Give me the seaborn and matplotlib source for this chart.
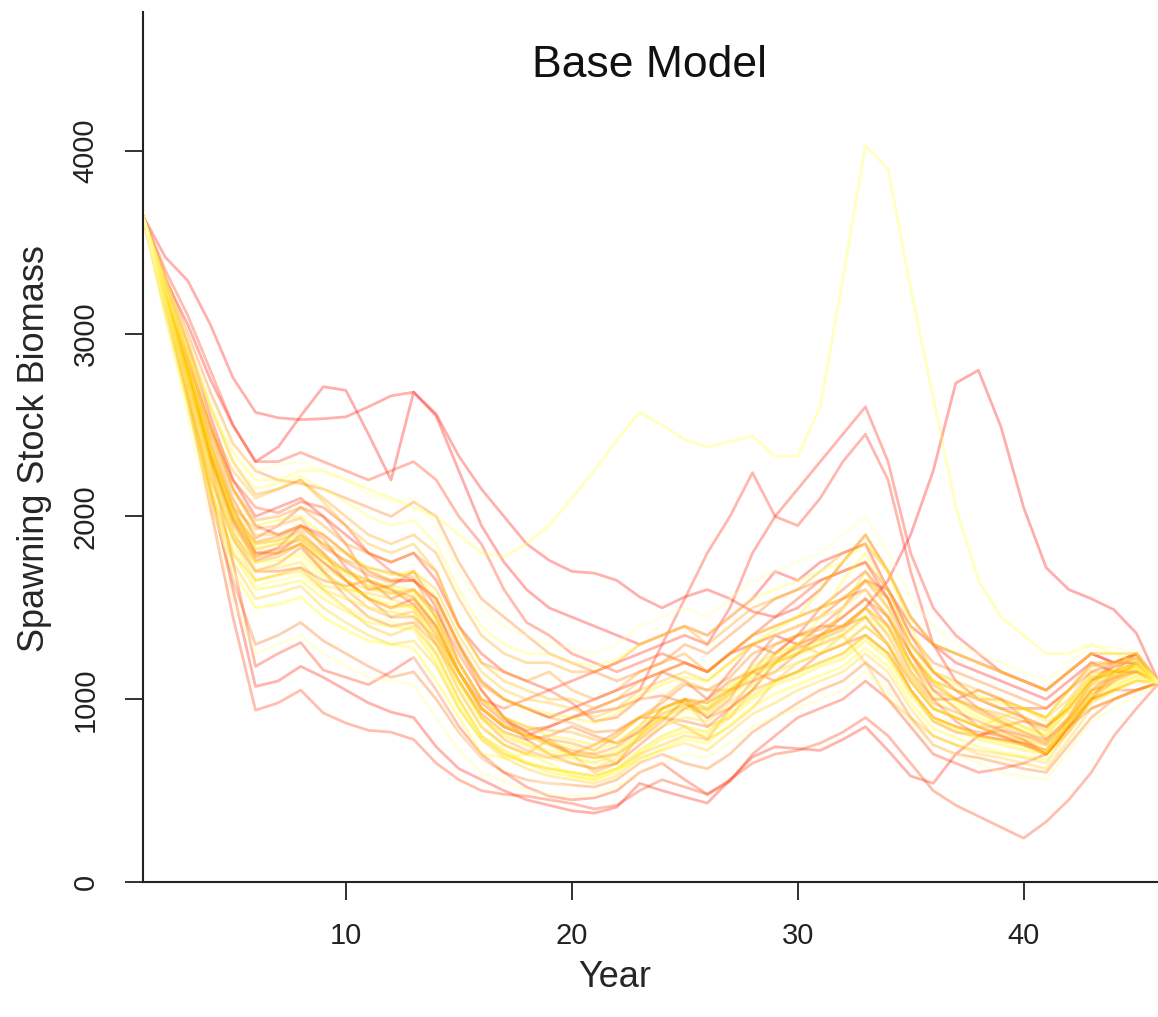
import colorsys
import numpy as np
import pandas as pd
import seaborn as sns
import matplotlib
matplotlib.use("Agg")
import matplotlib.pyplot as plt

# -----------------------------
# Data: spawning stock biomass per simulation run (years 1..46)
# -----------------------------
years = list(range(1, 47))

# reddish runs (the outlying ones)
run01 = [3650, 3250, 2850, 2500, 2150, 1950, 1900, 1950, 1900, 1800,
         1700, 1650, 1650, 1550, 1300, 1100, 1000, 950, 900, 950,
         1000, 1050, 1100, 1150, 1200, 1150, 1250, 1300, 1350, 1300,
         1350, 1400, 1500, 1650, 1900, 2250, 2730, 2800, 2490, 2050,
         1720, 1600, 1550, 1490, 1360, 1090]
run02 = [3650, 3300, 3050, 2750, 2500, 2300, 2380, 2550, 2710, 2690,
         2450, 2200, 2680, 2550, 2250, 1950, 1750, 1600, 1500, 1450,
         1400, 1350, 1300, 1350, 1400, 1350, 1450, 1550, 1700, 1650,
         1750, 1800, 1850, 1600, 1400, 1300, 1250, 1200, 1150, 1100,
         1050, 1150, 1250, 1200, 1200, 1090]
run03 = [3650, 3420, 3290, 3050, 2760, 2570, 2540, 2530, 2535, 2545,
         2600, 2660, 2680, 2560, 2330, 2150, 2000, 1850, 1760, 1700,
         1690, 1650, 1560, 1500, 1560, 1600, 1550, 1480, 1450, 1500,
         1600, 1750, 1900, 1700, 1450, 1300, 1200, 1150, 1100, 1050,
         1000, 1100, 1200, 1150, 1150, 1090]
run04 = [3650, 3200, 2700, 2150, 1600, 1070, 1100, 1180, 1120, 1050,
         980, 930, 900, 740, 620, 560, 500, 450, 420, 390,
         377, 410, 540, 500, 465, 432, 558, 684, 740, 730,
         720, 780, 850, 720, 580, 540, 700, 800, 830, 780,
         700, 850, 950, 1000, 1050, 1090]
run05 = [3650, 3300, 2950, 2550, 2200, 2000, 2050, 2100, 2000, 1900,
         1800, 1750, 1800, 1650, 1400, 1250, 1150, 1100, 1050, 1100,
         1150, 1200, 1250, 1300, 1350, 1300, 1500, 1800, 2000, 2150,
         2300, 2450, 2600, 2300, 1800, 1500, 1350, 1250, 1150, 1100,
         1050, 1150, 1250, 1200, 1200, 1090]
run06 = [3650, 3250, 2850, 2400, 2050, 1800, 1800, 1850, 1750, 1650,
         1550, 1500, 1550, 1400, 1150, 950, 850, 800, 850, 900,
         950, 1000, 1050, 1300, 1550, 1800, 2000, 2240, 2000, 1950,
         2100, 2300, 2450, 2200, 1700, 1300, 1100, 1000, 950, 900,
         850, 950, 1100, 1150, 1150, 1090]
run07 = [3650, 3220, 2780, 2300, 1750, 1180, 1250, 1310, 1160, 1120,
         1080, 1150, 1230, 1050, 850, 700, 600, 520, 470, 450,
         460, 500, 600, 650, 560, 480, 550, 700, 800, 900,
         950, 1000, 1100, 1000, 850, 700, 650, 600, 620, 650,
         700, 850, 1000, 1050, 1050, 1090]
run08 = [3650, 3350, 3100, 2800, 2500, 2300, 2300, 2350, 2300, 2250,
         2200, 2250, 2300, 2200, 2000, 1850, 1600, 1420, 1350, 1250,
         1200, 1150, 1200, 1250, 1200, 1150, 1250, 1350, 1450, 1550,
         1650, 1700, 1750, 1550, 1300, 1150, 1050, 1000, 950, 950,
         950, 1050, 1150, 1200, 1250, 1090]
run09 = [3650, 3150, 2650, 2050, 1450, 940, 980, 1050, 925, 870,
         830, 820, 780, 650, 560, 500, 480, 470, 450, 430,
         400, 420, 500, 560, 520, 480, 560, 650, 700, 720,
         760, 820, 900, 800, 650, 500, 420, 360, 300, 240,
         330, 450, 600, 800, 950, 1090]
# orange runs
run10 = [3650, 3230, 2800, 2330, 1980, 1780, 1830, 1950, 1880, 1720,
         1600, 1620, 1700, 1500, 1200, 1000, 950, 1000, 1050, 980,
         880, 900, 1000, 1150, 1100, 1000, 1150, 1300, 1250, 1350,
         1500, 1600, 1700, 1550, 1250, 1050, 950, 850, 800, 750,
         700, 820, 1000, 1150, 1250, 1090]
run11 = [3650, 3270, 2880, 2480, 2200, 2050, 2020, 2080, 2050, 1950,
         1800, 1700, 1650, 1550, 1300, 1050, 900, 820, 760, 700,
         680, 700, 780, 880, 1000, 980, 1050, 1100, 1150, 1250,
         1350, 1450, 1550, 1400, 1150, 1000, 1000, 1050, 1000, 900,
         780, 900, 1100, 1200, 1250, 1090]
run12 = [3650, 3170, 2700, 2230, 1880, 1700, 1700, 1720, 1650, 1620,
         1650, 1600, 1520, 1350, 1150, 980, 880, 830, 850, 900,
         930, 950, 1000, 1020, 980, 900, 1000, 1200, 1350, 1400,
         1450, 1550, 1600, 1450, 1200, 1000, 880, 800, 780, 760,
         700, 850, 1020, 1120, 1200, 1090]
run13 = [3650, 3260, 2870, 2450, 2100, 1880, 1950, 2050, 2000, 1850,
         1650, 1550, 1600, 1480, 1250, 1050, 900, 780, 700, 650,
         620, 650, 750, 850, 950, 1000, 1100, 1150, 1100, 1150,
         1250, 1300, 1350, 1250, 1050, 880, 820, 800, 850, 880,
         850, 950, 1100, 1180, 1220, 1090]
run14 = [3650, 3200, 2770, 2310, 1960, 1760, 1800, 1900, 1800, 1650,
         1550, 1450, 1450, 1330, 1100, 920, 820, 780, 800, 850,
         800, 760, 820, 950, 1000, 900, 950, 1050, 1200, 1300,
         1400, 1500, 1650, 1600, 1350, 1150, 1050, 950, 880, 820,
         780, 880, 1000, 1100, 1200, 1090]
run15 = [3650, 3190, 2740, 2280, 1920, 1700, 1740, 1830, 1700, 1560,
         1450, 1400, 1420, 1300, 1100, 900, 780, 720, 680, 700,
         750, 820, 900, 900, 880, 850, 950, 1100, 1250, 1350,
         1400, 1400, 1450, 1300, 1050, 900, 850, 820, 800, 760,
         720, 870, 1050, 1150, 1200, 1090]
run16 = [3650, 3120, 2620, 2100, 1650, 1300, 1350, 1420, 1320, 1250,
         1180, 1120, 1150, 1000, 820, 680, 600, 560, 540, 530,
         520, 560, 650, 700, 650, 620, 700, 820, 900, 980,
         1050, 1100, 1200, 1100, 900, 750, 700, 680, 650, 620,
         600, 750, 900, 1000, 1050, 1090]
run17 = [3650, 3320, 3000, 2680, 2400, 2250, 2200, 2180, 2150, 2100,
         2050, 2000, 2080, 2000, 1750, 1550, 1450, 1350, 1250, 1200,
         1150, 1100, 1150, 1200, 1300, 1250, 1350, 1450, 1550, 1600,
         1650, 1700, 1750, 1600, 1350, 1200, 1150, 1100, 1050, 1000,
         950, 1050, 1180, 1200, 1250, 1090]
run18 = [3650, 3240, 2820, 2370, 2020, 1860, 1890, 1940, 1850, 1750,
         1680, 1640, 1650, 1520, 1280, 1080, 1000, 950, 900, 870,
         820, 830, 900, 980, 1080, 1050, 1120, 1250, 1300, 1350,
         1380, 1450, 1550, 1450, 1250, 1080, 1000, 930, 870, 820,
         760, 900, 1080, 1180, 1230, 1090]
run19 = [3650, 3210, 2790, 2340, 1990, 1800, 1820, 1880, 1780, 1700,
         1650, 1600, 1560, 1400, 1150, 950, 860, 820, 760, 720,
         700, 740, 830, 920, 970, 940, 1030, 1150, 1220, 1280,
         1330, 1380, 1500, 1350, 1120, 980, 930, 880, 830, 800,
         760, 900, 1050, 1120, 1160, 1090]
run20 = [3650, 3200, 2800, 2350, 2050, 1930, 1950, 1990, 1830, 1760,
         1720, 1690, 1670, 1440, 1150, 950, 850, 800, 780, 760,
         720, 800, 900, 950, 1000, 950, 1050, 1150, 1200, 1250,
         1300, 1350, 1450, 1300, 1100, 950, 900, 850, 850, 800,
         750, 900, 1050, 1100, 1150, 1090]
run21 = [3650, 3250, 2850, 2450, 2150, 1980, 2000, 2050, 1950, 1850,
         1800, 1750, 1800, 1700, 1400, 1200, 1150, 1100, 1150, 1050,
         1000, 1050, 1150, 1200, 1250, 1150, 1250, 1350, 1400, 1450,
         1500, 1550, 1650, 1500, 1250, 1100, 1050, 1000, 1000, 950,
         900, 1050, 1200, 1200, 1200, 1090]
run22 = [3650, 3150, 2700, 2200, 1900, 1750, 1780, 1850, 1700, 1600,
         1500, 1450, 1480, 1300, 1050, 850, 750, 700, 780, 700,
         600, 650, 800, 900, 850, 780, 950, 1050, 1100, 1150,
         1200, 1250, 1350, 1250, 1050, 900, 850, 800, 780, 750,
         700, 850, 1000, 1050, 1100, 1090]
run23 = [3650, 3300, 2950, 2600, 2300, 2120, 2150, 2200, 2100, 2000,
         1900, 1850, 1900, 1800, 1550, 1350, 1250, 1200, 1200, 1150,
         1150, 1200, 1300, 1350, 1400, 1300, 1400, 1500, 1550, 1600,
         1700, 1800, 1850, 1700, 1450, 1300, 1250, 1200, 1150, 1100,
         1050, 1150, 1250, 1250, 1250, 1090]
run24 = [3650, 3180, 2750, 2300, 2000, 1850, 1870, 1920, 1800, 1700,
         1620, 1580, 1600, 1450, 1200, 1000, 900, 850, 830, 820,
         780, 760, 850, 1000, 1100, 1050, 1050, 1150, 1300, 1350,
         1350, 1400, 1500, 1400, 1200, 1050, 1000, 950, 920, 880,
         830, 980, 1120, 1130, 1150, 1090]
run25 = [3650, 3220, 2780, 2330, 2000, 1820, 1850, 1870, 1750, 1650,
         1550, 1500, 1520, 1380, 1150, 950, 850, 800, 750, 700,
         700, 650, 800, 950, 1000, 850, 900, 1050, 1200, 1300,
         1250, 1300, 1400, 1300, 1100, 950, 900, 850, 820, 780,
         720, 880, 1050, 1100, 1150, 1090]
run26 = [3650, 3280, 2900, 2500, 2250, 2100, 2150, 2200, 2080, 1950,
         1850, 1800, 1850, 1700, 1400, 1200, 1100, 1050, 1000, 1000,
         950, 1000, 1100, 1150, 1200, 1150, 1250, 1350, 1400, 1450,
         1500, 1550, 1650, 1550, 1300, 1150, 1100, 1050, 1000, 950,
         900, 1000, 1150, 1150, 1200, 1090]
run27 = [3650, 3150, 2650, 2150, 1800, 1650, 1680, 1720, 1600, 1500,
         1400, 1350, 1400, 1250, 1000, 800, 700, 650, 620, 600,
         580, 620, 700, 750, 800, 780, 850, 950, 1100, 1200,
         1250, 1350, 1200, 1000, 900, 800, 750, 720, 700, 680,
         650, 820, 980, 1050, 1100, 1090]
run28 = [3650, 3230, 2820, 2400, 2080, 1900, 1900, 1950, 1850, 1800,
         1700, 1650, 1700, 1600, 1350, 1150, 1050, 1000, 980, 950,
         900, 950, 1050, 1100, 1150, 1100, 1200, 1300, 1350, 1400,
         1450, 1500, 1600, 1450, 1250, 1100, 1000, 950, 900, 850,
         800, 950, 1100, 1150, 1180, 1090]
# yellow runs
run29 = [3650, 3120, 2620, 2100, 1750, 1550, 1580, 1620, 1500, 1420,
         1350, 1300, 1320, 1180, 950, 780, 680, 620, 580, 560,
         540, 580, 680, 720, 760, 720, 820, 920, 980, 1050,
         1100, 1150, 1250, 1150, 950, 800, 750, 700, 680, 650,
         620, 780, 950, 1000, 1050, 1090]
run30 = [3650, 3200, 2750, 2250, 1900, 1700, 1720, 1750, 1620, 1600,
         1580, 1550, 1500, 1300, 1050, 850, 750, 700, 680, 650,
         620, 680, 780, 850, 900, 880, 980, 1080, 1150, 1200,
         1250, 1300, 1400, 1300, 1100, 950, 900, 850, 800, 780,
         750, 900, 1050, 1100, 1150, 1090]
run31 = [3650, 3220, 2800, 2350, 2000, 1780, 1800, 1850, 1720, 1650,
         1600, 1580, 1550, 1380, 1100, 900, 800, 750, 700, 680,
         650, 700, 800, 900, 950, 920, 1020, 1120, 1200, 1250,
         1300, 1500, 1700, 1500, 1150, 950, 900, 850, 900, 950,
         880, 930, 1080, 1120, 1180, 1090]
run32 = [3650, 3180, 2720, 2220, 1880, 1650, 1680, 1700, 1600, 1550,
         1500, 1480, 1450, 1250, 1000, 800, 720, 650, 620, 600,
         580, 620, 720, 800, 850, 820, 920, 1020, 1100, 1150,
         1200, 1250, 1350, 1250, 1050, 900, 850, 800, 770, 750,
         720, 880, 1030, 1080, 1130, 1090]
run33 = [3650, 3250, 2850, 2400, 2050, 1850, 1870, 1900, 1780, 1700,
         1650, 1620, 1600, 1450, 1200, 1000, 900, 850, 800, 780,
         750, 800, 900, 950, 1000, 980, 1080, 1180, 1250, 1300,
         1350, 1400, 1500, 1400, 1200, 1100, 1050, 1000, 950, 900,
         850, 980, 1130, 1160, 1200, 1090]
run34 = [3650, 3150, 2650, 2150, 1800, 1600, 1620, 1650, 1550, 1480,
         1420, 1400, 1380, 1200, 950, 780, 700, 650, 600, 580,
         560, 600, 700, 780, 820, 800, 900, 1000, 1080, 1120,
         1180, 1220, 1320, 1220, 1020, 880, 830, 780, 750, 720,
         700, 860, 1010, 1060, 1120, 1090]
run35 = [3650, 3280, 2900, 2480, 2150, 1950, 1980, 2000, 1900, 1800,
         1720, 1680, 1700, 1550, 1300, 1100, 1000, 950, 920, 900,
         870, 920, 1020, 1080, 1120, 1100, 1200, 1300, 1380, 1450,
         1600, 1750, 1900, 1700, 1400, 1150, 1080, 1020, 980, 950,
         900, 1050, 1180, 1200, 1220, 1090]
run36 = [3650, 3100, 2600, 2100, 1700, 1500, 1520, 1560, 1450, 1380,
         1320, 1300, 1280, 1100, 900, 700, 680, 700, 650, 580,
         560, 620, 660, 730, 780, 760, 860, 960, 1030, 1080,
         1130, 1180, 1280, 1180, 980, 840, 790, 740, 710, 690,
         670, 830, 990, 1040, 1100, 1090]
# pale runs (run39 is the one with the big spike at year 33)
run37 = [3650, 3200, 2780, 2300, 1950, 1750, 1760, 1800, 1680, 1620,
         1560, 1520, 1500, 1350, 1100, 900, 820, 760, 720, 700,
         680, 720, 820, 900, 960, 940, 1040, 1140, 1200, 1260,
         1320, 1360, 1460, 1380, 1180, 1020, 960, 900, 860, 830,
         800, 950, 1100, 1140, 1170, 1090]
run38 = [3650, 3240, 2840, 2380, 2020, 1830, 1850, 1880, 1760, 1680,
         1620, 1600, 1580, 1420, 1150, 950, 860, 800, 760, 740,
         720, 760, 860, 930, 980, 960, 1060, 1160, 1230, 1300,
         1450, 1650, 1800, 1600, 1300, 1100, 980, 920, 880, 850,
         820, 970, 1120, 1150, 1190, 1090]
run39 = [3650, 3250, 2900, 2600, 2350, 2200, 2200, 2250, 2250, 2200,
         2150, 2100, 2050, 2000, 1900, 1800, 1780, 1850, 1950, 2100,
         2250, 2420, 2570, 2500, 2420, 2380, 2410, 2440, 2330, 2330,
         2600, 3300, 4030, 3900, 3250, 2650, 2050, 1650, 1450, 1350,
         1250, 1250, 1300, 1250, 1200, 1090]
run40 = [3650, 3300, 2950, 2600, 2300, 2150, 2180, 2220, 2150, 2080,
         2000, 1950, 1980, 1850, 1600, 1400, 1300, 1250, 1250, 1200,
         1180, 1220, 1300, 1350, 1400, 1350, 1450, 1550, 1600, 1650,
         1700, 1750, 1850, 1700, 1450, 1300, 1250, 1200, 1150, 1100,
         1050, 1150, 1250, 1250, 1250, 1090]
run41 = [3650, 3150, 2700, 2200, 1850, 1620, 1650, 1680, 1580, 1500,
         1450, 1420, 1400, 1220, 980, 800, 720, 660, 620, 600,
         580, 620, 720, 790, 840, 820, 920, 1020, 1090, 1140,
         1190, 1240, 1340, 1240, 1040, 890, 840, 790, 760, 730,
         710, 870, 1020, 1070, 1120, 1090]
run42 = [3650, 3200, 2750, 2280, 1920, 1720, 1740, 1780, 1660, 1600,
         1540, 1500, 1480, 1320, 1080, 880, 800, 740, 700, 680,
         660, 700, 800, 880, 930, 910, 1010, 1110, 1180, 1230,
         1290, 1340, 1440, 1340, 1140, 990, 940, 890, 850, 820,
         790, 940, 1090, 1130, 1160, 1090]
run43 = [3650, 3100, 2550, 2000, 1550, 1250, 1300, 1350, 1250, 1180,
         1120, 1100, 1080, 900, 720, 600, 550, 500, 480, 470,
         480, 520, 600, 650, 700, 680, 760, 850, 900, 950,
         1000, 1050, 1150, 1050, 880, 750, 700, 650, 600, 580,
         560, 720, 880, 950, 1020, 1090]
run44 = [3650, 3300, 2980, 2650, 2400, 2250, 2280, 2300, 2250, 2200,
         2120, 2080, 2100, 1950, 1700, 1500, 1400, 1350, 1300, 1280,
         1250, 1300, 1400, 1450, 1500, 1450, 1550, 1650, 1700, 1750,
         1800, 1900, 2000, 1800, 1550, 1400, 1300, 1250, 1200, 1150,
         1100, 1200, 1300, 1280, 1260, 1090]
run45 = [3650, 3180, 2700, 2250, 1900, 1700, 1720, 1760, 1640, 1560,
         1500, 1460, 1440, 1280, 1050, 850, 780, 720, 680, 660,
         640, 680, 780, 860, 900, 880, 980, 1080, 1150, 1200,
         1260, 1310, 1410, 1310, 1110, 960, 910, 860, 820, 790,
         760, 910, 1060, 1100, 1140, 1090]
run46 = [3650, 3260, 2870, 2450, 2120, 1920, 1950, 1980, 1880, 1780,
         1700, 1660, 1680, 1520, 1270, 1070, 980, 920, 890, 870,
         840, 890, 990, 1050, 1100, 1080, 1180, 1280, 1350, 1400,
         1450, 1500, 1600, 1480, 1280, 1120, 1060, 1000, 960, 930,
         880, 1030, 1170, 1190, 1210, 1090]
run47 = [3650, 3120, 2600, 2080, 1700, 1450, 1480, 1520, 1420, 1350,
         1280, 1250, 1230, 1050, 830, 680, 620, 570, 540, 520,
         500, 540, 640, 710, 760, 740, 840, 940, 1010, 1060,
         1110, 1160, 1260, 1160, 960, 820, 770, 720, 690, 670,
         650, 810, 970, 1030, 1090, 1090]

runs = [run01, run02, run03, run04, run05, run06, run07, run08, run09, run10,
        run11, run12, run13, run14, run15, run16, run17, run18, run19, run20,
        run21, run22, run23, run24, run25, run26, run27, run28, run29, run30,
        run31, run32, run33, run34, run35, run36, run37, run38, run39, run40,
        run41, run42, run43, run44, run45, run46, run47]
run_names = [f"run{i + 1:02d}" for i in range(len(runs))]

rows = []
for name, values in zip(run_names, runs):
    assert len(values) == len(years), name
    for yr, v in zip(years, values):
        rows.append({"run": name, "Year": yr, "SSB": v})
df = pd.DataFrame(rows)


# R-style heat.colors palette
def heat_colors(n):
    j = n // 4
    i = n - j
    cols = [colorsys.hsv_to_rgb(h, 1.0, 1.0) for h in np.linspace(0, 1 / 6, i)]
    if j > 0:
        cols += [colorsys.hsv_to_rgb(1 / 6, s, 1.0)
                 for s in np.linspace(1 - 1 / (2 * j), 1 / (2 * j), j)]
    return cols


colors = heat_colors(len(runs))

# -----------------------------
# Plot
# -----------------------------
sns.set_style("ticks")
plt.rcParams["font.family"] = ["Liberation Sans", "DejaVu Sans"]

fig = plt.figure(figsize=(11.58, 10.17), dpi=100)
ax = fig.add_axes([0.1231, 0.1327, 0.8769, 0.8555])

sns.lineplot(data=df, x="Year", y="SSB", hue="run", hue_order=run_names,
             palette=colors, estimator=None, legend=False,
             linewidth=2.0, alpha=0.32, ax=ax)

ax.set_xlim(1, 45.95)
ax.set_ylim(0, 4760)
ax.set_xticks([10, 20, 30, 40])
ax.set_yticks([0, 1000, 2000, 3000, 4000])
ax.tick_params(axis="both", length=13, width=1.3, colors="#222222",
               labelsize=21, labelcolor="#222222")
ax.tick_params(axis="y", pad=18)
ax.tick_params(axis="x", pad=16)
for lbl in ax.get_yticklabels():
    lbl.set_rotation(90)
    lbl.set_verticalalignment("center")

for side in ["top", "right"]:
    ax.spines[side].set_visible(False)
for side in ["left", "bottom"]:
    ax.spines[side].set_linewidth(1.5)
    ax.spines[side].set_color("#222222")

ax.set_xlabel("Year", fontsize=26)
ax.set_ylabel("Spawning Stock Biomass", fontsize=26)
ax.xaxis.label.set_verticalalignment("center")
ax.yaxis.label.set_verticalalignment("center")
ax.xaxis.set_label_coords(0.465, -0.110)
ax.yaxis.set_label_coords(-0.106, 0.498)

fig.text(0.561, 0.936, "Base Model", fontsize=32, ha="center", va="center",
         color="#111111")

fig.savefig("out.png", dpi=100)
plt.close(fig)
